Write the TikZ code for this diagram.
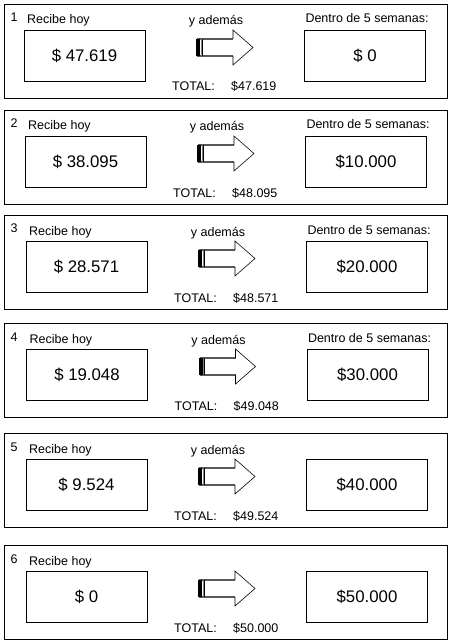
\documentclass[tikz,border=0pt]{standalone}
\usepackage{fontspec}
\setmainfont{Liberation Sans}
\usetikzlibrary{positioning}

\tikzset{
  valbox/.style={draw, line width=0.8pt, minimum width=121pt, minimum height=51pt,
    inner sep=0pt, font=\fontsize{16.8}{19}\selectfont},
  lbl/.style={inner sep=0pt, font=\fontsize{12.5}{14}\selectfont},
  shaft/.style={draw=gray!70!black, line width=1.2pt},
}

\begin{document}
\begin{tikzpicture}[x=1pt, y=-1pt]
    \useasboundingbox (0,0) rectangle (450,644);
    % one panel per option: top, shift, number, today, later, total
    \foreach \t/\d/\n/\a/\b/\s in {
	4/-1/1/{\$ 47.619}/{\$ 0}/{\$47.619},
	110/0/2/{\$ 38.095}/{\$10.000}/{\$48.095},
	215/1/3/{\$ 28.571}/{\$20.000}/{\$48.571},
	323/1.5/4/{\$ 19.048}/{\$30.000}/{\$49.048},
	433/1/5/{\$ 9.524}/{\$40.000}/{\$49.524},
	545/1/6/{\$ 0}/{\$50.000}/{\$50.000}}
    {
    \draw[line width=0.8pt] (4,\t) rectangle (447,\t+94);
    \node[lbl, anchor=base] (num\n) at (14,\t+18) {\n};
    \node[lbl, anchor=base west] (recibe\n) at (28+\d,\t+20) {Recibe hoy};
    \node[valbox] (hoy\n) at (85.5+\d,\t+51.5) {\a};
    \node[valbox] (fut\n) at (366+\d,\t+51.5) {\b};
    \ifnum\n<6
      \node[lbl, anchor=base] (ademas\n) at (217+\d,\t+21) {y además};
    \fi
    \ifnum\n<5
      \node[lbl, anchor=base] (dentro\n) at (368+\d,\t+19) {Dentro de 5 semanas:};
    \fi
    % block arrow
    \draw[shaft] (198+\d,\t+35) -- (234+\d,\t+35);
    \draw[shaft] (198+\d,\t+52) -- (234+\d,\t+52);
    \draw[line width=0.6pt, line join=miter] (234+\d,\t+35) -- (234+\d,\t+26)
	-- (254+\d,\t+43.5) -- (234+\d,\t+61) -- (234+\d,\t+52);
    \fill (197+\d,\t+35) rectangle (201+\d,\t+52);
    \draw[gray, line width=0.9pt] (202+\d,\t+35) -- (202+\d,\t+52);
    \draw[line width=0.5pt] (203.2+\d,\t+35) -- (203.2+\d,\t+52);
    \node[lbl, anchor=base west] (total\n) at (173+\d,\t+87) {TOTAL:};
    \node[lbl, anchor=base west] (sum\n) at (232+\d,\t+87) {\s};
    }
\end{tikzpicture}
\end{document}
